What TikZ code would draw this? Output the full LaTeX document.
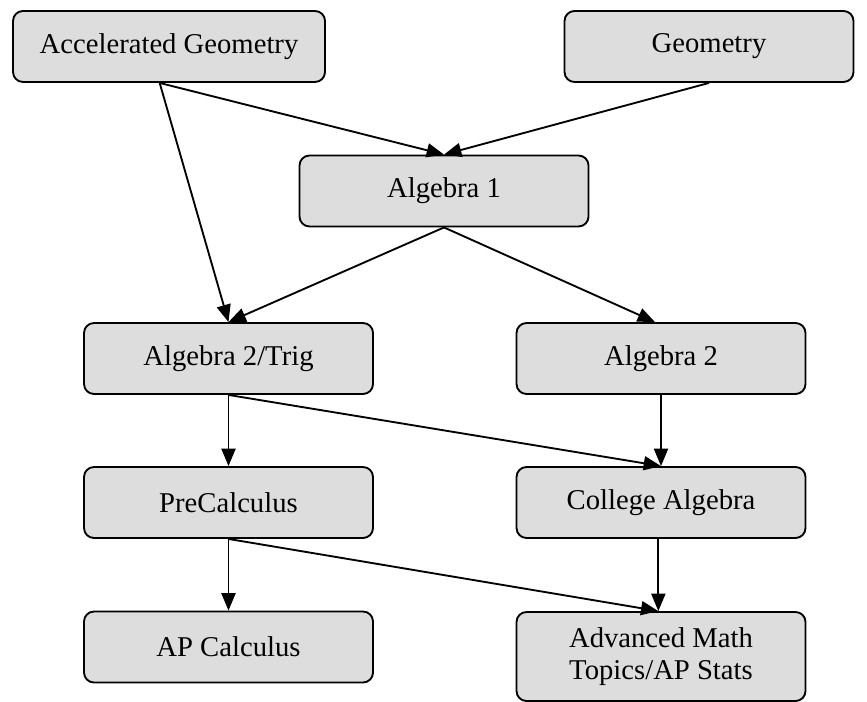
\documentclass[tikz,border=0pt]{standalone}
\usepackage{fontspec}
\setmainfont{Liberation Serif}
\usetikzlibrary{arrows.meta}
\definecolor{boxfill}{RGB}{221,221,221}
\tikzset{
  course/.style={draw=black, fill=boxfill, line width=1.4pt, rounded corners=7.5pt,
    rectangle, inner sep=0pt, minimum width=216.75pt, minimum height=53.25pt,
    align=center, font=\fontsize{21.5}{23.5}\selectfont},
  link/.style={line width=1.4pt, -{Triangle[length=13pt,width=10.5pt]}}
}
\begin{document}
\begin{tikzpicture}[x=0.75pt, y=-0.75pt]
  \useasboundingbox (0,0) rectangle (867,702);
  % course boxes
  \node[course, minimum width=234pt] (ag)  at (169,46.5)   {Accelerated Geometry};
  \node[course] (geo) at (709,46.5)   {Geometry};
  \node[course] (a1)  at (444,191)    {Algebra 1};
  \node[course] (a2t) at (228.5,358.5) {Algebra 2/Trig};
  \node[course] (a2)  at (661,358.5)  {Algebra 2};
  \node[course] (pc)  at (228.5,502.5) {PreCalculus};
  \node[course] (ca)  at (661,502.5)  {College Algebra};
  \node[course] (apc) at (228.5,647)  {AP Calculus};
  \node[course, minimum height=66.75pt] (amt) at (661,656.5) {Advanced Math\\Topics/AP Stats};
  % prerequisites
  \draw[link] ([xshift=-7pt]ag.south) -- (a1.north);
  \draw[link] (geo.south) -- (a1.north);
  \draw[link] ([xshift=-7pt]ag.south) -- (a2t.north);
  \draw[link] (a1.south) -- (a2t.north);
  \draw[link] (a1.south) -- ([xshift=-4.5pt]a2.north);
  \draw[link] (a2t.south) -- (pc.north);
  \draw[link] (a2t.south) -- (ca.north);
  \draw[link] (a2.south) -- (ca.north);
  \draw[link] (pc.south) -- (apc.north);
  \draw[link] (pc.south) -- ([xshift=-2pt]amt.north);
  \draw[link] ([xshift=-2pt]ca.south) -- ([xshift=-2pt]amt.north);
\end{tikzpicture}
\end{document}
